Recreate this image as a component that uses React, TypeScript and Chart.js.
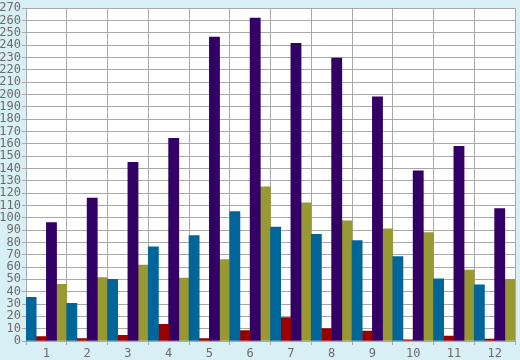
import React, { useEffect, useRef } from "react";
import { Chart, registerables } from "chart.js";

Chart.register(...registerables);

const categories = ["1", "2", "3", "4", "5", "6", "7", "8", "9", "10", "11", "12"];
const blueSeries = [35.5, 30.5, 50, 76.5, 85.5, 105, 92.5, 86.5, 81.5, 68.5, 50.5, 45.5];
const redSeries = [3.5, 2, 4.5, 13.5, 2, 8.5, 19, 10, 8, 1, 4, 1.5];
const purpleSeries = [96, 116, 145, 164.5, 246.5, 262, 241.5, 229.5, 198, 138, 158, 107.5];
const oliveSeries = [46, 51.5, 61.5, 51, 66, 125, 112, 97.5, 91, 88, 57.5, 50];

const BG = "#d9eff6";
const GRID = "#a8a8a8";
const TEXT = "#6b6b6b";

export default function App() {
  const ref = useRef<HTMLCanvasElement | null>(null);
  useEffect(() => {
    document.body.style.margin = "0";
    const canvas = ref.current!;
    const bgPlugin = {
      id: "bg",
      beforeDraw(chart: any) {
        const { ctx, chartArea } = chart;
        ctx.save();
        ctx.fillStyle = BG;
        ctx.fillRect(0, 0, chart.width, chart.height);
        ctx.fillStyle = "#ffffff";
        ctx.fillRect(chartArea.left, chartArea.top, chartArea.right - chartArea.left, chartArea.bottom - chartArea.top);
        ctx.restore();
      },
    };
    const font = { family: "'DejaVu Sans Mono', monospace", size: 12 };
    const chart = new Chart(canvas, {
      type: "bar",
      data: {
        labels: categories,
        datasets: [
          { data: blueSeries, backgroundColor: "#006699" },
          { data: redSeries, backgroundColor: "#990000" },
          { data: purpleSeries, backgroundColor: "#330066" },
          { data: oliveSeries, backgroundColor: "#999933" },
        ],
      },
      options: {
        responsive: false,
        animation: false,
        layout: { padding: { top: 5, right: 5, left: 0, bottom: 0 } },
        datasets: { bar: { barPercentage: 1, categoryPercentage: 1, borderWidth: 0 } },
        plugins: { legend: { display: false }, tooltip: { enabled: false } },
        scales: {
          x: {
            grid: { color: GRID, lineWidth: 1, offset: true, tickLength: 4, drawTicks: true },
            border: { color: GRID },
            ticks: { color: TEXT, font, padding: 2, maxRotation: 0 },
            afterFit(scale: any) {
              scale.height = 19;
            },
          },
          y: {
            min: 0,
            max: 270,
            grid: { color: GRID, lineWidth: 1, tickLength: 4 },
            border: { color: GRID },
            ticks: { stepSize: 10, autoSkip: false, color: TEXT, font, padding: 1 },
            afterFit(scale: any) {
              scale.width = 26;
            },
          },
        },
      },
      plugins: [bgPlugin],
    } as any);
    return () => chart.destroy();
  }, []);
  return (
    <div style={{ width: 520, height: 360 }}>
      <canvas ref={ref} width={520} height={360} style={{ display: "block" }} />
    </div>
  );
}
